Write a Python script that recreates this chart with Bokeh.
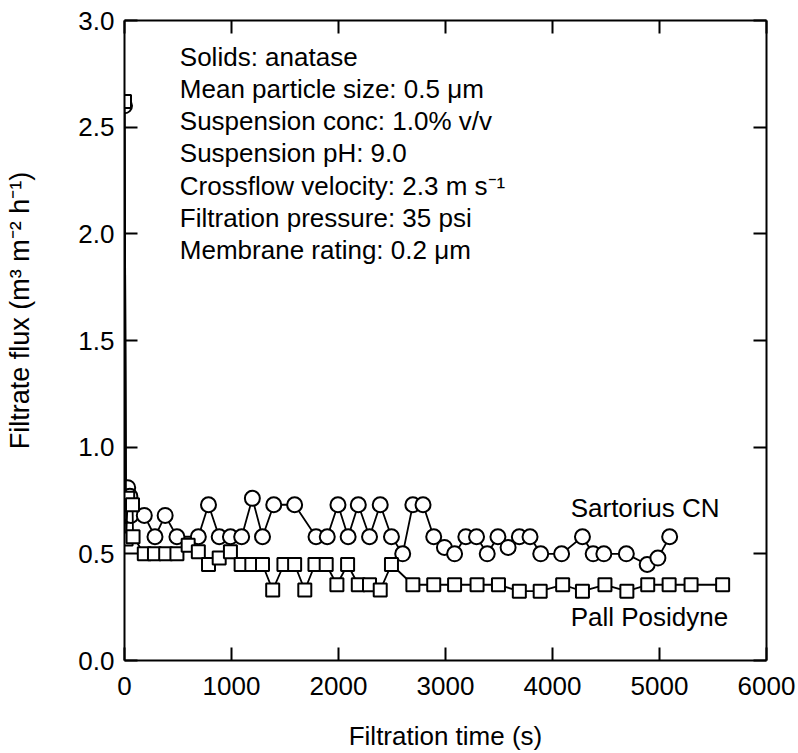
from bokeh.plotting import figure
from bokeh.models import LinearAxis, Range1d, FixedTicker, NumeralTickFormatter, ColumnDataSource
from bokeh.core.properties import value
from bokeh.embed import file_html
from bokeh.resources import INLINE

# ---- data ----
sart_t = [0, 15, 30, 50, 60, 185, 285, 380, 490, 690, 785, 885, 990, 1095, 1195, 1290,
          1395, 1590, 1790, 1895, 1995, 2090, 2185, 2290, 2390, 2495, 2600, 2695, 2790,
          2890, 2990, 3085, 3190, 3290, 3390, 3490, 3585, 3690, 3790, 3890, 4085, 4280,
          4380, 4480, 4690, 4885, 4985, 5095]
sart_f = [2.60, 0.68, 0.81, 0.77, 0.68, 0.68, 0.58, 0.68, 0.58, 0.58, 0.73, 0.58, 0.58,
          0.58, 0.76, 0.58, 0.73, 0.73, 0.58, 0.58, 0.73, 0.58, 0.73, 0.58, 0.73, 0.58,
          0.50, 0.73, 0.73, 0.58, 0.53, 0.50, 0.58, 0.58, 0.50, 0.58, 0.53, 0.58, 0.58,
          0.50, 0.50, 0.58, 0.50, 0.50, 0.50, 0.45, 0.48, 0.58]

pall_t = [0, 15, 30, 75, 80, 185, 280, 385, 490, 595, 690, 785, 885, 990, 1090, 1190,
          1290, 1385, 1490, 1590, 1685, 1780, 1885, 1985, 2085, 2185, 2290, 2390, 2495,
          2695, 2890, 3085, 3295, 3495, 3690, 3885, 4095, 4280, 4490, 4695, 4890, 5090,
          5295, 5590]
pall_f = [2.62, 0.57, 0.76, 0.73, 0.58, 0.50, 0.50, 0.50, 0.50, 0.54, 0.51, 0.45, 0.48,
          0.51, 0.45, 0.45, 0.45, 0.33, 0.45, 0.45, 0.33, 0.45, 0.45, 0.355, 0.45, 0.355,
          0.355, 0.33, 0.45, 0.355, 0.355, 0.355, 0.355, 0.355, 0.325, 0.325, 0.355,
          0.325, 0.355, 0.325, 0.355, 0.355, 0.355, 0.355]

x_ticks = [0, 1000, 2000, 3000, 4000, 5000, 6000]
y_ticks = [0.0, 0.5, 1.0, 1.5, 2.0, 2.5, 3.0]

info_lines = ["Solids: anatase",
              "Mean particle size: 0.5 \u03bcm",
              "Suspension conc: 1.0% v/v",
              "Suspension pH: 9.0",
              "Crossflow velocity: 2.3 m s\u207b\u00b9",
              "Filtration pressure: 35 psi",
              "Membrane rating: 0.2 \u03bcm"]
info_x = [517] * 7
info_y = [2.830, 2.679, 2.528, 2.377, 2.226, 2.075, 1.924]

series_labels = ["Sartorius CN", "Pall Posidyne"]
series_label_x = [4170, 4170]
series_label_y = [0.716, 0.202]

FONT = "Liberation Sans"
FS = "26px"

p = figure(width=798, height=753, x_range=Range1d(0, 6000), y_range=Range1d(0, 3),
           output_backend="svg", toolbar_location=None,
           min_border_left=124, min_border_right=32, min_border_top=20, min_border_bottom=91)
p.outline_line_color = None
p.xgrid.visible = False
p.ygrid.visible = False
p.background_fill_color = "white"
p.border_fill_color = "white"

def style_axis(ax, ticks, show_labels):
    ax.ticker = FixedTicker(ticks=ticks)
    ax.axis_line_width = 2
    ax.axis_line_color = "black"
    ax.major_tick_in = 13
    ax.major_tick_out = 0
    ax.major_tick_line_width = 2
    ax.major_tick_line_color = "black"
    ax.minor_tick_line_color = None
    ax.major_label_text_font = FONT
    if show_labels:
        ax.major_label_text_color = "black"
        ax.major_label_text_font_size = FS
    else:
        ax.major_label_text_color = None
        ax.major_label_text_font_size = "1px"
        ax.major_label_standoff = 0

xa = p.xaxis[0]
style_axis(xa, x_ticks, True)
xa.major_label_standoff = 16
xa.axis_label = "Filtration time (s)"
xa.axis_label_text_font = FONT
xa.axis_label_text_font_size = FS
xa.axis_label_text_font_style = "normal"
xa.axis_label_text_color = "black"
xa.axis_label_standoff = 23

ya = p.yaxis[0]
style_axis(ya, y_ticks, True)
ya.formatter = NumeralTickFormatter(format="0.0")
ya.major_label_standoff = 10
ya.axis_label = "\u00a0" * 8 + "Filtrate flux (m\u00b3 m\u207b\u00b2 h\u207b\u00b9)"
ya.axis_label_text_font = FONT
ya.axis_label_text_font_size = "27px"
ya.axis_label_text_font_style = "normal"
ya.axis_label_text_color = "black"
ya.axis_label_standoff = 40

top = LinearAxis()
style_axis(top, x_ticks, False)
p.add_layout(top, "above")
right = LinearAxis()
style_axis(right, y_ticks, False)
p.add_layout(right, "right")

# Sartorius CN (circles)
p.line(sart_t, sart_f, line_color="black", line_width=1.8)
p.scatter(sart_t, sart_f, marker="circle", size=15, fill_color="white",
          line_color="black", line_width=2)
# Pall Posidyne (squares)
p.line(pall_t, pall_f, line_color="black", line_width=1.8)
p.scatter(pall_t, pall_f, marker="square", size=13, fill_color="white",
          line_color="black", line_width=2)

info_src = ColumnDataSource(dict(x=info_x, y=info_y, t=info_lines))
p.text(x="x", y="y", text="t", source=info_src, text_font=value(FONT),
       text_font_size=FS, text_color="black", text_baseline="alphabetic", text_align="left")

lab_src = ColumnDataSource(dict(x=series_label_x, y=series_label_y, t=series_labels))
p.text(x="x", y="y", text="t", source=lab_src, text_font=value(FONT),
       text_font_size=FS, text_color="black", text_baseline="alphabetic", text_align="left")

open("out.html", "w").write(file_html(p, INLINE))
